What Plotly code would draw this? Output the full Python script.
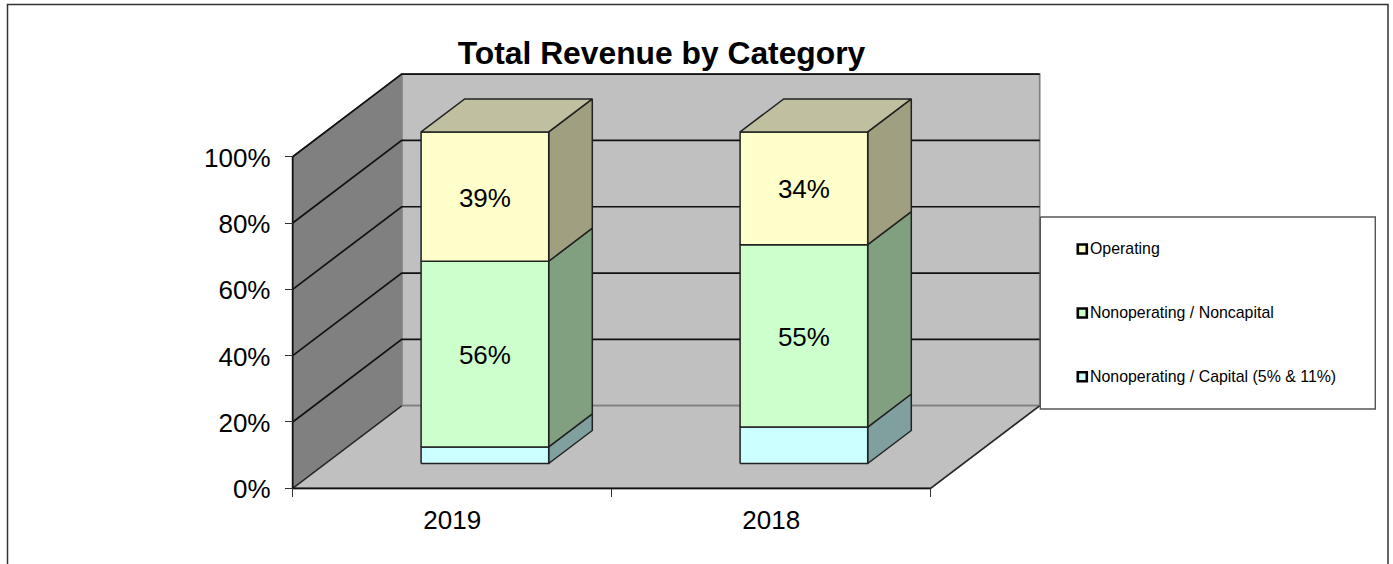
import plotly.graph_objects as go

# ---- data ----
categories = ["2019", "2018"]
capital = [5, 11]
noncapital = [56, 55]
operating = [39, 34]
y_ticks = [0, 20, 40, 60, 80, 100]
y_tick_labels = ["0%", "20%", "40%", "60%", "80%", "100%"]
series_names = ["Nonoperating / Capital (5% & 11%)", "Nonoperating / Noncapital", "Operating"]
legend_order = ["Operating", "Nonoperating / Noncapital", "Nonoperating / Capital (5% & 11%)"]

# ---- styling / geometry ----
W, H = 1393, 564
X0, Y0 = 292.7, 488.3      # pixel of category 0, value 0
CAT_W, PCT_H = 319.0, 3.316
DX, DY = 109 / CAT_W, 82.6 / PCT_H   # oblique shift for full depth
BAR_L, BAR_R = 0.3, 0.7    # bar span inside a category
D_F, D_B = 0.3, 0.7        # bar span in depth
LABEL_PX_DOWN = 3.5        # optical offset of the data labels
FONT = "Liberation Sans"
front = {"Operating": "#FFFFCC", "Nonoperating / Noncapital": "#CCFFCC", "Nonoperating / Capital (5% & 11%)": "#CCFFFF"}
side = {"Operating": "#A0A080", "Nonoperating / Noncapital": "#80A080", "Nonoperating / Capital (5% & 11%)": "#80A0A0"}
top_col = "#C0C0A0"


def P(c, v, d):
    return c + d * DX, v + d * DY


def poly(points):
    xs, ys = zip(*points)
    return list(xs) + [xs[0]], list(ys) + [ys[0]]


fig = go.Figure()


def add_poly(pts_list, fill, line="#000000", lw=1.2):
    xs, ys = [], []
    for pts in pts_list:
        a, b = poly(pts)
        xs += a + [None]
        ys += b + [None]
    fig.add_trace(go.Scatter(x=xs, y=ys, mode="lines", fill="toself", fillcolor=fill,
                             line=dict(color=line, width=lw), showlegend=False, hoverinfo="skip"))


def add_line(pts_list, color, lw=1.5):
    xs, ys = [], []
    for pts in pts_list:
        for p in pts:
            xs.append(p[0])
            ys.append(p[1])
        xs.append(None)
        ys.append(None)
    fig.add_trace(go.Scatter(x=xs, y=ys, mode="lines", line=dict(color=color, width=lw),
                             showlegend=False, hoverinfo="skip"))


n = len(categories)
vmax = y_ticks[-1]
# walls and floor
add_poly([[P(0, 0, 1), P(n, 0, 1), P(n, vmax, 1), P(0, vmax, 1)]], "#C0C0C0", "#808080", 1.7)
add_poly([[P(0, 0, 0), P(n, 0, 0), P(n, 0, 1), P(0, 0, 1)]], "#C0C0C0", "#808080", 1.7)
add_poly([[P(0, 0, 0), P(0, vmax, 0), P(0, vmax, 1), P(0, 0, 1)]], "#808080", "#808080", 1.5)
# gridlines on left and back wall
add_line([[P(0, t, 0), P(0, t, 1), P(n, t, 1)] for t in y_ticks[1:]], "#111111", 1.7)
# edges
add_line([[P(0, 0, 0), P(0, 0, 1)], [P(n, 0, 0), P(n, 0, 1)]], "#222222", 1.4)
add_line([[P(0, 0, 0), P(0, vmax, 0)], [P(0, 0, 0), P(n, 0, 0)]], "#111111", 1.8)

# stacked bars
stack = [("Nonoperating / Capital (5% & 11%)", capital),
         ("Nonoperating / Noncapital", noncapital),
         ("Operating", operating)]
base = [0] * n
label_x, label_y, label_t = [], [], []
for name, vals in stack:
    fr, si = [], []
    for i, v in enumerate(vals):
        lo, hi = base[i], base[i] + v
        l, r = i + BAR_L, i + BAR_R
        fr.append([P(l, lo, D_F), P(r, lo, D_F), P(r, hi, D_F), P(l, hi, D_F)])
        si.append([P(r, lo, D_F), P(r, lo, D_B), P(r, hi, D_B), P(r, hi, D_F)])
        if name != series_names[0]:
            cx, cy = P(i + 0.5, (lo + hi) / 2, D_F)
            label_x.append(cx)
            label_y.append(cy - LABEL_PX_DOWN / PCT_H)
            label_t.append(f"{v}%")
        base[i] = hi
    add_poly(si, side[name], "#222222", 1.5)
    add_poly(fr, front[name], "#222222", 1.5)
add_poly([[P(i + BAR_L, base[i], D_F), P(i + BAR_R, base[i], D_F), P(i + BAR_R, base[i], D_B), P(i + BAR_L, base[i], D_B)]
          for i in range(n)], top_col, "#222222", 1.5)

fig.add_trace(go.Scatter(x=label_x, y=label_y, mode="text", text=label_t,
                         textfont=dict(family=FONT, size=26, color="#000000"),
                         showlegend=False, hoverinfo="skip"))

# legend drawn on a pixel-scaled overlay
LEG = dict(l=1040.3, t=217, r=1375.3, b=409, mx=1082.3, tx=1090, ys=[249, 313, 376.7])
fig.add_trace(go.Scatter(x=[LEG["l"], LEG["r"], LEG["r"], LEG["l"], LEG["l"]],
                         y=[LEG["t"], LEG["t"], LEG["b"], LEG["b"], LEG["t"]],
                         xaxis="x2", yaxis="y2", mode="lines", fill="toself", fillcolor="#FFFFFF",
                         line=dict(color="#555555", width=1.4), showlegend=False, hoverinfo="skip"))
for name, ly in zip(legend_order, LEG["ys"]):
    fig.add_trace(go.Scatter(x=[LEG["mx"]], y=[ly], xaxis="x2", yaxis="y2", mode="markers",
                             marker=dict(symbol="square", size=9, color=front[name],
                                         line=dict(color="#000000", width=2.6)),
                             showlegend=False, hoverinfo="skip"))
    fig.add_trace(go.Scatter(x=[LEG["tx"]], y=[ly + 1], xaxis="x2", yaxis="y2", mode="text",
                             text=[name], textposition="middle right",
                             textfont=dict(family=FONT, size=15.9, color="#000000"),
                             showlegend=False, hoverinfo="skip"))

fig.update_layout(
    width=W, height=H, margin=dict(l=0, r=0, t=0, b=0),
    paper_bgcolor="#FFFFFF", plot_bgcolor="#FFFFFF", hovermode=False, showlegend=False,
    title=dict(text="<b>Total Revenue by Category</b>", x=661.5 / W, xref="paper", xanchor="center",
               y=1 - 52.5 / H, yref="paper", yanchor="middle",
               font=dict(family=FONT, size=31.8, color="#000000")),
    xaxis=dict(domain=[0, 1], range=[-X0 / CAT_W, (W - X0) / CAT_W], anchor="free", position=1 - Y0 / H,
               tickmode="array", tickvals=[i + 0.5 for i in range(n)], ticktext=categories,
               ticks="", showgrid=False, zeroline=False, showline=False, ticklabelstandoff=14,
               tickfont=dict(family=FONT, size=26, color="#000000"),
               minor=dict(tickmode="array", tickvals=list(range(n + 1)), ticks="outside", ticklen=8,
                          tickwidth=1.3, tickcolor="#333333", showgrid=False)),
    yaxis=dict(domain=[0, 1], range=[(Y0 - H) / PCT_H, Y0 / PCT_H], anchor="free", position=X0 / W,
               tickmode="array", tickvals=y_ticks, ticktext=y_tick_labels,
               ticks="outside", ticklen=8, tickwidth=1.3, tickcolor="#333333",
               showgrid=False, zeroline=False, showline=False, ticklabelstandoff=9, ticklabelshift=1,
               tickfont=dict(family=FONT, size=26, color="#000000")),
    xaxis2=dict(domain=[0, 1], range=[0, W], overlaying="x", anchor="y2", visible=False),
    yaxis2=dict(domain=[0, 1], range=[H, 0], overlaying="y", anchor="x2", visible=False),
    shapes=[dict(type="path", xref="paper", yref="paper",
                 path=f"M {7.5/W},0 L {7.5/W},{1-4.5/H} L {1388/W},{1-4.5/H} L {1388/W},0",
                 line=dict(color="#333333", width=1.5))],
)

fig.write_html("out.html", config={"displayModeBar": False},
               post_script="document.body.style.margin='0';document.body.style.overflow='hidden';")
